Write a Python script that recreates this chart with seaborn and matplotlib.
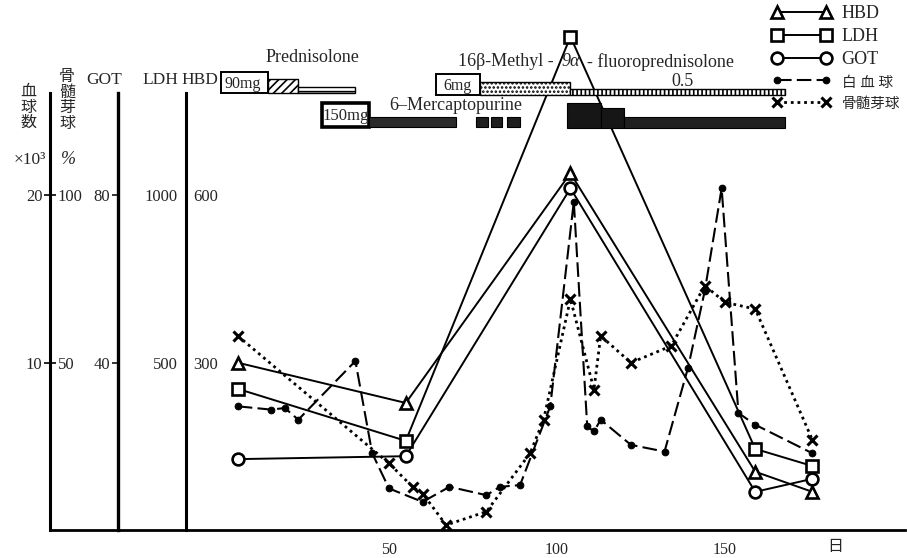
import matplotlib
matplotlib.use("Agg")
import matplotlib.pyplot as plt
from matplotlib.patches import Rectangle
import seaborn as sns

# ---------------- data ----------------
# serum enzymes sampled on the same days
enzyme_days = [5, 55, 104, 159, 176]
hbd_values = [300, 228, 639, 105, 69]
ldh_values = [422, 267, 1472, 243, 192]
got_values = [17, 17.7, 81.6, 9.2, 12.3]

# white blood cell count (x10^3)
wbc_days = [5, 15, 19, 23, 40, 45, 50, 60, 68, 79, 83, 89, 98, 105,
            109, 111, 113, 122, 132, 139, 144, 149, 154, 159, 176]
wbc_values = [7.4, 7.2, 7.3, 6.6, 10.1, 4.6, 2.5, 1.7, 2.6, 2.1, 2.6, 2.7, 7.4, 19.6,
              6.2, 5.9, 6.6, 5.1, 4.7, 9.7, 14.3, 20.4, 7.0, 6.3, 4.6]

# bone marrow blasts (%)
blast_days = [5, 50, 57, 60, 67, 79, 92, 96, 104, 111, 113, 122, 134, 144, 150, 159, 176]
blast_values = [58, 20, 13, 11, 1.6, 5.6, 23, 33, 69, 42, 58, 50, 55, 73, 68, 66, 27]

# treatment schedule (days)
pred_days = [0, 14, 23, 40]                      # Prednisolone 90 mg, tapered
mp_days = [30, 44, 70]                           # 6-Mercaptopurine 150 mg
mp_pulse_days = [(76, 79.5), (80.5, 83.5), (85, 89)]
mp2_days = [103, 113, 120, 168]
mfp_days = [64, 77, 104, 168]                    # 16beta-methyl-9alpha-fluoroprednisolone 6 mg -> 0.5

x_ticks = [50, 100, 150]
wbc_ticks = [10, 20]
blast_ticks = [50, 100]
got_ticks = [40, 80]
ldh_ticks = [500, 1000]
hbd_ticks = [300, 600]

# ---------------- style ----------------
sns.set_style("white")
plt.rcParams["font.family"] = ["Liberation Serif", "Noto Sans CJK JP"]
plt.rcParams["axes.unicode_minus"] = False
CJK = ["Noto Sans CJK JP", "Liberation Serif"]
TICK_FS = 12

W, H = 907, 558
fig = plt.figure(figsize=(W / 100, H / 100), dpi=100)

X0, X1 = 50, 905          # axes pixel extent
Y0 = 530.4                # baseline pixel row
PX_UNIT = 16.77           # pixels per 1 x10^3 cells
YTOP = 31.0
DAY0, PX_DAY = 221, 3.36
SPINE_TOP = 26.1          # height of the scale bars (in WBC units)

ax = fig.add_axes([X0 / W, 1 - Y0 / H, (X1 - X0) / W, YTOP * PX_UNIT / H])
ax.set_xlim((X0 - DAY0) / PX_DAY, (X1 - DAY0) / PX_DAY)
ax.set_ylim(0, YTOP)


def fy(ypix):
    return (Y0 - ypix) / (YTOP * PX_UNIT)


def make_twin(scale):
    t = ax.twinx()
    t.set_ylim(0, YTOP * scale)
    for s in t.spines.values():
        s.set_visible(False)
    return t


ax_blast = make_twin(5)
ax_got = make_twin(4)
ax_ldh = make_twin(50)
ax_hbd = make_twin(30)

# ---------------- series ----------------
solid = dict(color="black", lw=1.4, markerfacecolor="white",
             markeredgecolor="black", markeredgewidth=1.9, clip_on=False)
sns.lineplot(x=enzyme_days, y=hbd_values, ax=ax_hbd, marker="^", markersize=9, **solid)
sns.lineplot(x=enzyme_days, y=ldh_values, ax=ax_ldh, marker="s", markersize=8.5, **solid)
sns.lineplot(x=enzyme_days, y=got_values, ax=ax_got, marker="o", markersize=8.5, **solid)
sns.lineplot(x=wbc_days, y=wbc_values, ax=ax, color="black", lw=1.5,
             linestyle=(0, (7, 2.5)), marker="o", markersize=4.8,
             markerfacecolor="black", markeredgecolor="black", clip_on=False)
sns.lineplot(x=blast_days, y=blast_values, ax=ax_blast, color="black", lw=2.0,
             linestyle=(0, (1, 1.4)), marker="x", markersize=7.5,
             markeredgewidth=2.2, markeredgecolor="black", clip_on=False)

for a, sc in [(ax, 1), (ax_blast, 5), (ax_got, 4), (ax_ldh, 50), (ax_hbd, 30)]:
    a.set_ylim(0, YTOP * sc)
    a.set_xlabel("")
    a.set_ylabel("")
ax.set_xlim((X0 - DAY0) / PX_DAY, (X1 - DAY0) / PX_DAY)

# ---------------- axes / scales ----------------
for s in ["top", "right"]:
    ax.spines[s].set_visible(False)
ax.spines["left"].set_bounds(0, SPINE_TOP)
ax.spines["left"].set_linewidth(2.2)
ax.spines["bottom"].set_linewidth(2.0)
ax.spines["left"].set_color("black")
ax.spines["bottom"].set_color("black")
ax.set_xticks(x_ticks)
ax.set_xticklabels([str(v) for v in x_ticks])
ax.set_yticks(wbc_ticks)
ax.set_yticklabels([str(v) for v in wbc_ticks])
ax.tick_params(axis="x", direction="inout", length=4, width=1, pad=6, labelsize=11.5)
ax.tick_params(axis="y", direction="inout", length=8, width=1.4, pad=1.5, labelsize=TICK_FS)

ax_blast.yaxis.tick_right()
ax_blast.spines["right"].set_position(("axes", 0))
ax_blast.set_yticks(blast_ticks)
ax_blast.set_yticklabels([str(v) for v in blast_ticks])
ax_blast.tick_params(axis="y", length=0, pad=5.5, labelsize=TICK_FS)

pos_got = (118 - X0) / (X1 - X0)
ax_got.spines["left"].set_visible(True)
ax_got.spines["left"].set_position(("axes", pos_got))
ax_got.spines["left"].set_bounds(0, SPINE_TOP * 4)
ax_got.spines["left"].set_linewidth(2.4)
ax_got.spines["left"].set_color("black")
ax_got.yaxis.tick_left()
ax_got.set_yticks(got_ticks)
ax_got.set_yticklabels([str(v) for v in got_ticks])
ax_got.tick_params(axis="y", direction="out", length=4.5, width=1.3, pad=1, labelsize=TICK_FS)

pos_ldh = (186 - X0) / (X1 - X0)
ax_ldh.spines["left"].set_visible(True)
ax_ldh.spines["left"].set_position(("axes", pos_ldh))
ax_ldh.spines["left"].set_bounds(0, SPINE_TOP * 50)
ax_ldh.spines["left"].set_linewidth(2.2)
ax_ldh.spines["left"].set_color("black")
ax_ldh.yaxis.tick_left()
ax_ldh.set_yticks(ldh_ticks)
ax_ldh.set_yticklabels([str(v) for v in ldh_ticks])
ax_ldh.tick_params(axis="y", length=0, pad=6, labelsize=TICK_FS)

ax_hbd.yaxis.tick_right()
ax_hbd.spines["right"].set_position(("axes", pos_ldh))
ax_hbd.set_yticks(hbd_ticks)
ax_hbd.set_yticklabels([str(v) for v in hbd_ticks])
ax_hbd.tick_params(axis="y", length=0, pad=5, labelsize=TICK_FS)

# ---------------- treatment bars (top overlay) ----------------
ax_top = ax.twinx()
ax_top.set_ylim(0, 1)
ax_top.set_yticks([])
for s in ax_top.spines.values():
    s.set_visible(False)


def band(x0, x1, ytop, ybot, **kw):
    kw.setdefault("ec", "black")
    ax_top.add_patch(Rectangle((x0, fy(ybot)), x1 - x0, fy(ytop) - fy(ybot),
                               clip_on=False, **kw))


plt.rcParams["hatch.linewidth"] = 1.2
# Prednisolone
band(pred_days[0], pred_days[1], 72, 93, fc="white", lw=1.4, zorder=3)
band(pred_days[1], pred_days[2], 79, 93, fc="white", lw=1.0, hatch="////", zorder=3)
band(pred_days[2], pred_days[3], 87, 93, fc="white", lw=1.0, hatch="---", zorder=3)
# 16beta-methyl-9alpha-fluoroprednisolone
band(mfp_days[0], mfp_days[1], 74, 95, fc="white", lw=1.4, zorder=3)
band(mfp_days[1], mfp_days[2], 82, 95, fc="white", lw=1.0, hatch="....", zorder=3)
band(mfp_days[2], mfp_days[3], 89, 95, fc="white", lw=1.0, hatch="||||", zorder=3)
# 6-Mercaptopurine
band(mp_days[0], mp_days[1], 103, 127, fc="white", lw=2.6, zorder=3)
band(mp_days[1], mp_days[2], 117, 127, fc="#2b2b2b", lw=0.8, zorder=3)
for a0, a1 in mp_pulse_days:
    band(a0, a1, 117, 127, fc="#1e1e1e", lw=0.8, zorder=3)
band(mp2_days[0], mp2_days[1], 103, 128, fc="#161616", lw=0.8, zorder=3)
band(mp2_days[1], mp2_days[2], 108, 128, fc="#161616", lw=0.8, zorder=3)
band(mp2_days[2], mp2_days[3], 117, 128, fc="#202020", lw=0.8, zorder=3)


def day(xpix):
    return (xpix - DAY0) / PX_DAY


tk = dict(fontsize=13, zorder=4, clip_on=False)
ax_top.text(day(312), fy(57), "Prednisolone", ha="center", va="center", **tk)
ax_top.text(day(243), fy(84), "90mg", ha="center", va="center", fontsize=11.5, zorder=4)
ax_top.text(day(554), fy(62), "16β-Methyl -", ha="right", va="center", **tk)
ax_top.text(day(571), fy(62), "9α", ha="center", va="center", style="italic", **tk)
ax_top.text(day(587), fy(62), "- fluoroprednisolone", ha="left", va="center", **tk)
ax_top.text(day(457), fy(86), "6mg", ha="center", va="center", fontsize=11.5, zorder=4)
ax_top.text(day(683), fy(81), "0.5", ha="center", va="center", **tk)
ax_top.text(day(456), fy(105), "6–Mercaptopurine", ha="center", va="center", **tk)
ax_top.text(day(346), fy(116), "150mg", ha="center", va="center", fontsize=12, zorder=4)

# ---------------- scale headings ----------------
def ftext(x, y, s, **kw):
    fig.text(x / W, 1 - y / H, s, ha="center", va="center", **kw)


ftext(28, 107, "血\n球\n数", fontsize=11.5, family=CJK, linespacing=0.88)
ftext(67, 100, "骨\n髄\n芽\n球", fontsize=11.5, family=CJK, linespacing=0.88)
ftext(30, 160, "×10³", fontsize=12.5)
ftext(68, 160, "%", fontsize=13, style="italic")
ftext(104, 80, "GOT", fontsize=12.5)
ftext(160, 80, "LDH", fontsize=12.5)
ftext(200, 80, "HBD", fontsize=12.5)
ftext(835, 546, "日", fontsize=11.5, family=CJK)

# ---------------- legend ----------------
handles = [ax_hbd.get_lines()[0], ax_ldh.get_lines()[0], ax_got.get_lines()[0],
           ax.get_lines()[0], ax_blast.get_lines()[0]]
labels = ["HBD", "LDH", "GOT", "白 血 球", "骨髄芽球"]
leg = fig.legend(handles, labels, loc="upper left", bbox_to_anchor=(772 / W, 1 - 5 / H),
                 frameon=False, numpoints=2, handlelength=3.3, handletextpad=0.55,
                 labelspacing=0.33, borderpad=0, borderaxespad=0,
                 prop={"family": ["Liberation Serif", "Noto Sans CJK JP"], "size": 13})
for txt in leg.get_texts()[3:]:
    txt.set_fontsize(10.5)

fig.savefig("out.png", dpi=100)
